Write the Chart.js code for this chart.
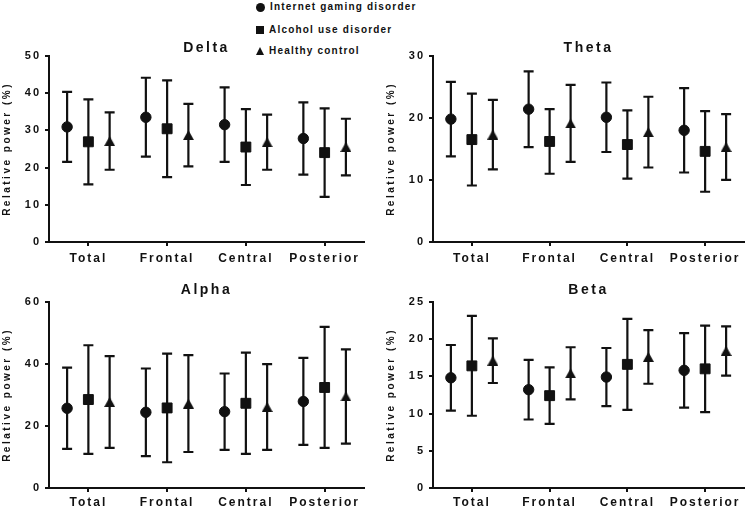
<!DOCTYPE html>
<html>
<head>
<meta charset="utf-8">
<script src="https://cdn.jsdelivr.net/npm/chart.js@4"></script>
<style>
  body { margin: 0; background: #fff; }
  #wrap { position: relative; width: 752px; height: 509px; overflow: hidden; }
  canvas { position: absolute; }
  .leg { position: absolute; left: 256px; font: bold 10px "Liberation Sans", Arial, sans-serif;
         letter-spacing: 1.2px; color: #111; line-height: 12px; white-space: nowrap; }
  .leg i { display: inline-block; vertical-align: middle; margin-right: 5px; background: #111; }
  .leg .c { width: 9px; height: 9px; border-radius: 50%; }
  .leg .s { width: 8px; height: 8px; }
  .leg .t { width: 0; height: 0; background: none; border-left: 4.5px solid transparent;
            border-right: 4.5px solid transparent; border-bottom: 8px solid #111; }
</style>
</head>
<body>
<div id="wrap">
  <div class="leg" style="top:1px"><i class="c"></i><span id="lg0"></span></div>
  <div class="leg" style="top:24px"><i class="s"></i><span id="lg1"></span></div>
  <div class="leg" style="top:45px"><i class="t"></i><span id="lg2"></span></div>
  <canvas id="delta" width="372" height="232" style="left:0;top:36px"></canvas>
  <canvas id="theta" width="368" height="232" style="left:384px;top:36px"></canvas>
  <canvas id="alpha" width="372" height="231" style="left:0;top:278px"></canvas>
  <canvas id="beta" width="368" height="231" style="left:384px;top:278px"></canvas>
</div>
<script>
// regions and groups
const regions = ['Total', 'Frontal', 'Central', 'Posterior'];
const groups = ['Internet gaming disorder', 'Alcohol use disorder', 'Healthy control'];

// mean values, one row per group (IGD, AUD, HC), columns follow regions
const deltaMean = [
    [30.9, 33.5, 31.5, 27.8],
    [26.9, 30.4, 25.5, 24.0],
    [27.1, 28.7, 26.8, 25.5]
];
const deltaSd = [
    [9.4, 10.6, 10.0, 9.7],
    [11.4, 13.0, 10.2, 11.9],
    [7.7, 8.4, 7.4, 7.6]
];

const thetaMean = [
    [19.8, 21.4, 20.1, 18.0],
    [16.5, 16.2, 15.7, 14.6],
    [17.3, 19.1, 17.7, 15.3]
];
const thetaSd = [
    [6.0, 6.1, 5.6, 6.8],
    [7.4, 5.2, 5.5, 6.5],
    [5.6, 6.2, 5.7, 5.3]
];

const alphaMean = [
    [25.7, 24.4, 24.6, 27.9],
    [28.5, 25.8, 27.3, 32.4],
    [27.7, 27.2, 26.1, 29.5]
];
const alphaSd = [
    [13.1, 14.1, 12.3, 14.0],
    [17.5, 17.5, 16.3, 19.5],
    [14.8, 15.6, 13.8, 15.2]
];

const betaMean = [
    [14.8, 13.2, 14.9, 15.8],
    [16.4, 12.4, 16.6, 16.0],
    [17.1, 15.4, 17.6, 18.4]
];
const betaSd = [
    [4.4, 4.0, 3.9, 5.0],
    [6.7, 3.8, 6.1, 5.8],
    [3.0, 3.5, 3.6, 3.3]
];

const FONT = '"Liberation Sans", Arial, sans-serif';
const INK = '#111';
const GROUP_OFFSET = 0.27;

// triangle drawn as an image so its box is centred on the mean (like the original)
const tri = document.createElement('canvas');
tri.width = 11; tri.height = 10;
(function () {
    const c = tri.getContext('2d');
    c.fillStyle = INK;
    c.beginPath();
    c.moveTo(5.5, 0); c.lineTo(11, 10); c.lineTo(0, 10);
    c.closePath();
    c.fill();
})();

const markers = [
    { style: 'circle', radius: 5.2 },
    { style: 'rect', radius: 7 },
    { style: tri, radius: 5.5 }
];

groups.forEach((g, i) => { document.getElementById('lg' + i).textContent = g; });

// mean +/- SD bars, plus letter spacing for the canvas text
const errorBars = {
    id: 'errorBars',
    beforeDraw(chart) {
        chart.ctx.letterSpacing = '2.5px';
    },
    beforeDatasetsDraw(chart) {
        const ctx = chart.ctx;
        const y = chart.scales.y;
        const sd = chart.options.plugins.errorBars.sd;
        ctx.save();
        ctx.strokeStyle = INK;
        ctx.lineWidth = 2.2;
        chart.data.datasets.forEach((ds, di) => {
            chart.getDatasetMeta(di).data.forEach((el, i) => {
                const m = ds.data[i].y;
                const top = y.getPixelForValue(m + sd[di][i]);
                const bot = y.getPixelForValue(m - sd[di][i]);
                ctx.beginPath();
                ctx.moveTo(el.x, top); ctx.lineTo(el.x, bot);
                ctx.moveTo(el.x - 5, top); ctx.lineTo(el.x + 5, top);
                ctx.moveTo(el.x - 5, bot); ctx.lineTo(el.x + 5, bot);
                ctx.stroke();
            });
        });
        ctx.restore();
        ctx.letterSpacing = '2px';
    }
};

function makePanel(id, title, mean, sd, max, step, lay) {
    const datasets = groups.map((g, gi) => ({
        label: g,
        data: mean[gi].map((v, i) => ({ x: i + (gi - 1) * GROUP_OFFSET, y: v })),
        pointStyle: markers[gi].style,
        pointRadius: markers[gi].radius,
        pointBackgroundColor: INK,
        pointBorderColor: INK,
        pointBorderWidth: 1,
        showLine: false
    }));

    return new Chart(document.getElementById(id), {
        type: 'scatter',
        data: { datasets: datasets },
        options: {
            responsive: false,
            animation: false,
            layout: { padding: { left: 0, right: lay.right, top: 0, bottom: 0 } },
            plugins: {
                legend: { display: false },
                tooltip: { enabled: false },
                title: {
                    display: true,
                    text: title,
                    fullSize: false,
                    color: INK,
                    font: { family: FONT, size: 14, weight: 'bold', lineHeight: 1.2 },
                    padding: { top: lay.titleTop, bottom: lay.titleBottom }
                },
                errorBars: { sd: sd }
            },
            scales: {
                x: {
                    type: 'linear',
                    min: -0.5,
                    max: 3.5,
                    afterBuildTicks: s => { s.ticks = regions.map((r, i) => ({ value: i })); },
                    afterFit: s => { s.height = lay.xh; },
                    grid: { drawOnChartArea: false, drawTicks: true, tickLength: 4, color: INK, lineWidth: 2 },
                    border: { display: true, color: INK, width: 2 },
                    ticks: {
                        z: 1,
                        autoSkip: false,
                        maxRotation: 0,
                        padding: lay.xPad,
                        color: INK,
                        font: { family: FONT, size: 12, weight: 'bold' },
                        callback: v => regions[v]
                    }
                },
                y: {
                    min: 0,
                    max: max,
                    afterFit: s => { s.width = 49; },
                    grid: { drawOnChartArea: false, drawTicks: true, tickLength: 4, color: INK, lineWidth: 2 },
                    border: { display: true, color: INK, width: 2 },
                    ticks: {
                        z: 1,
                        stepSize: step,
                        padding: 4,
                        color: INK,
                        font: { family: FONT, size: 11, weight: 'bold' }
                    },
                    title: {
                        display: true,
                        text: 'Relative power (%)',
                        color: INK,
                        padding: { top: 1, bottom: 0 },
                        font: { family: FONT, size: 10, weight: 'bold', lineHeight: 1.2 }
                    }
                }
            }
        },
        plugins: [errorBars]
    });
}

const topLay = { right: 7, titleTop: 4, titleBottom: 0, xh: 26, xPad: 5 };
const botLay = { right: 7, titleTop: 4, titleBottom: 3, xh: 21, xPad: 3 };

makePanel('delta', 'Delta', deltaMean, deltaSd, 50, 10, Object.assign({}, topLay, { titleBottom: -1 }));
makePanel('theta', 'Theta', thetaMean, thetaSd, 30, 10, Object.assign({}, topLay, { right: 2, titleBottom: -1 }));
makePanel('alpha', 'Alpha', alphaMean, alphaSd, 60, 20, botLay);
makePanel('beta', 'Beta', betaMean, betaSd, 25, 5, Object.assign({}, botLay, { right: 2 }));
</script>
</body>
</html>
